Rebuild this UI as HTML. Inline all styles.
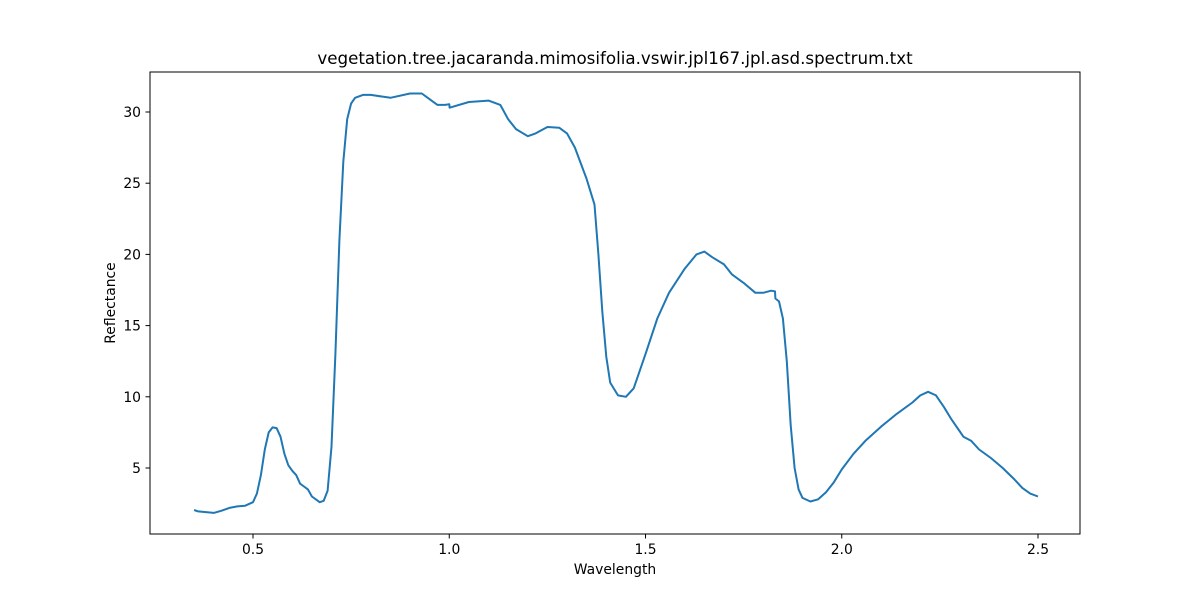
<!DOCTYPE html>
<html><head><meta charset="utf-8"><style>
body{margin:0;background:#fff;}
svg text{font-family:"DejaVu Sans","Liberation Sans",sans-serif;fill:#000;}
</style></head><body>
<svg id="chart" width="1200" height="600" xmlns="http://www.w3.org/2000/svg">
<rect width="1200" height="600" fill="#fff"/>
<text x="615" y="64" font-size="16.7" text-anchor="middle">vegetation.tree.jacaranda.mimosifolia.vswir.jpl167.jpl.asd.spectrum.txt</text>
<g id="xt"></g>
<g id="yt"></g>
<path id="line" fill="none" stroke="#1f77b4" stroke-width="2" stroke-linejoin="round"/>
<rect x="150" y="72" width="930" height="462" fill="none" stroke="#000" stroke-width="1"/>
<text x="615" y="574" font-size="13.9" text-anchor="middle">Wavelength</text>
<text x="0" y="0" font-size="13.9" text-anchor="middle" transform="translate(115,303) rotate(-90)">Reflectance</text>
</svg>
<script>
const wavelengths=[0.35,0.36,0.38,0.40,0.42,0.44,0.46,0.48,0.50,0.51,0.52,0.53,0.54,0.55,0.56,0.57,0.58,0.59,0.60,0.61,0.62,0.63,0.64,0.65,0.66,0.67,0.68,0.69,0.70,0.71,0.72,0.73,0.74,0.75,0.76,0.78,0.80,0.85,0.90,0.93,0.95,0.97,0.99,1.0,1.001,1.05,1.10,1.13,1.15,1.17,1.20,1.22,1.25,1.28,1.30,1.32,1.35,1.37,1.38,1.39,1.40,1.41,1.43,1.45,1.47,1.50,1.53,1.56,1.60,1.63,1.65,1.67,1.70,1.72,1.75,1.78,1.80,1.82,1.83,1.831,1.84,1.85,1.86,1.87,1.88,1.89,1.90,1.92,1.94,1.96,1.98,2.00,2.03,2.06,2.10,2.14,2.18,2.20,2.22,2.24,2.26,2.28,2.30,2.31,2.33,2.35,2.38,2.41,2.44,2.46,2.48,2.50];
const reflectance=[2.05,1.95,1.9,1.85,2.0,2.2,2.3,2.35,2.6,3.2,4.5,6.3,7.5,7.85,7.8,7.2,6.0,5.2,4.8,4.5,3.9,3.7,3.5,3.0,2.8,2.6,2.7,3.4,6.5,13,21,26.5,29.5,30.6,31.0,31.2,31.2,31.0,31.3,31.3,30.9,30.5,30.5,30.55,30.3,30.7,30.8,30.5,29.5,28.8,28.3,28.5,28.95,28.9,28.5,27.5,25.3,23.5,20,16,12.8,11,10.1,10.0,10.6,13.0,15.5,17.3,19.0,20.0,20.2,19.8,19.3,18.6,18.0,17.3,17.3,17.45,17.4,16.9,16.7,15.5,12.5,8,5,3.5,2.9,2.65,2.8,3.3,4.0,4.9,6.0,6.9,7.9,8.8,9.6,10.1,10.35,10.1,9.3,8.4,7.6,7.2,6.9,6.3,5.7,5.0,4.2,3.6,3.2,3.0];
const xTicks=[0.5,1.0,1.5,2.0,2.5];
const xTickLabels=["0.5","1.0","1.5","2.0","2.5"];
const yTicks=[5,10,15,20,25,30];
const yTickLabels=["5","10","15","20","25","30"];
const X=v=>253+(v-0.5)*392.5;
const Y=v=>468-(v-5)*14.24;
const NS="http://www.w3.org/2000/svg";
const xt=document.getElementById('xt'), yt=document.getElementById('yt');
xTicks.forEach((t,i)=>{
  const l=document.createElementNS(NS,'line');
  
  
  l.setAttribute('x1',X(t));l.setAttribute('x2',X(t));l.setAttribute('y1',534);l.setAttribute('y2',538.5);l.setAttribute('stroke','#000');
  xt.appendChild(l);
  const tx=document.createElementNS(NS,'text');
  
  
  tx.setAttribute('x',X(t));tx.setAttribute('y',554);tx.setAttribute('font-size','13.9');tx.setAttribute('text-anchor','middle');
  tx.textContent=xTickLabels[i];xt.appendChild(tx);
});
yTicks.forEach((t,i)=>{
  const l=document.createElementNS(NS,'line');
  
  
  l.setAttribute('x1',145.5);l.setAttribute('x2',150);l.setAttribute('y1',Y(t));l.setAttribute('y2',Y(t));l.setAttribute('stroke','#000');
  yt.appendChild(l);
  const tx=document.createElementNS(NS,'text');
  
  
  tx.setAttribute('x',141);tx.setAttribute('y',Y(t)+5);tx.setAttribute('font-size','13.9');tx.setAttribute('text-anchor','end');
  tx.textContent=yTickLabels[i];yt.appendChild(tx);
});
document.getElementById('line').setAttribute('d',wavelengths.map((w,i)=>(i?'L':'M')+X(w).toFixed(1)+' '+Y(reflectance[i]).toFixed(1)).join(' '));
</script>
</body></html>
